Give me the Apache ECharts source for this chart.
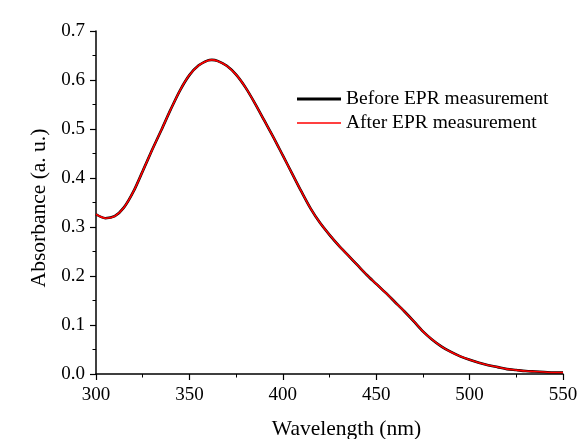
<!DOCTYPE html>
<html>
<head>
<meta charset="utf-8">
<script src="https://cdn.jsdelivr.net/npm/echarts@6/dist/echarts.min.js"></script>
<style>
html,body{margin:0;padding:0;background:#fff;}
#c{width:584px;height:439px;}
</style>
</head>
<body>
<div id="c"></div>
<script>
const wavelengths = [300,305,310,315,320,325,330,335,340,345,350,355,360,362,365,370,375,380,385,390,395,400,405,410,415,420,425,430,435,440,445,450,455,460,465,470,475,480,485,490,495,500,505,510,515,520,525,530,535,540,545,550];
const beforeEPR = [0.326,0.318,0.322,0.340,0.372,0.414,0.457,0.498,0.540,0.579,0.610,0.630,0.640,0.641,0.639,0.629,0.611,0.585,0.553,0.518,0.483,0.446,0.409,0.372,0.337,0.308,0.284,0.262,0.242,0.222,0.202,0.184,0.166,0.147,0.128,0.108,0.087,0.070,0.056,0.045,0.036,0.029,0.023,0.018,0.014,0.010,0.008,0.006,0.005,0.004,0.003,0.003];
const afterEPR = [0.326,0.318,0.322,0.340,0.372,0.414,0.457,0.498,0.540,0.579,0.610,0.630,0.640,0.641,0.639,0.629,0.611,0.585,0.553,0.518,0.483,0.446,0.409,0.372,0.337,0.308,0.284,0.262,0.242,0.222,0.202,0.184,0.166,0.147,0.128,0.108,0.087,0.070,0.056,0.045,0.036,0.029,0.023,0.018,0.014,0.010,0.008,0.006,0.005,0.004,0.003,0.003];
const seriesNames = ['Before EPR measurement','After EPR measurement'];
const xLabelName = 'Wavelength (nm)';
const yLabelName = 'Absorbance (a. u.)';

const font = '"Liberation Serif", "Times New Roman", serif';
const pair = (xs, ys) => xs.map((x, i) => [x, ys[i]]);

const chart = echarts.init(document.getElementById('c'));
chart.setOption({
  backgroundColor: '#fff',
  animation: false,
  grid: {left: 96, right: 21, top: 31, bottom: 65, containLabel: false, outerBoundsMode: 'none'},
  legend: {
    orient: 'vertical',
    left: 292,
    top: 84,
    itemWidth: 44,
    itemHeight: 14,
    itemGap: 4,
    textStyle: {fontFamily: font, fontSize: 19.5, color: '#000'},
    data: [
      {name: seriesNames[0], icon: 'path://M0,6 L44,6 L44,9 L0,9 Z', itemStyle: {color: '#000'}},
      {name: seriesNames[1], icon: 'path://M0,7 L44,7 L44,8.6 L0,8.6 Z', itemStyle: {color: '#ff0000'}}
    ]
  },
  xAxis: {
    type: 'value', min: 300, max: 550, interval: 50,
    name: xLabelName, nameLocation: 'middle', nameGap: 44,
    nameTextStyle: {fontFamily: font, fontSize: 21.5, color: '#000', padding: [0, 0, 0, 34]},
    axisLine: {show: true, onZero: false, lineStyle: {color: '#000', width: 1.5}},
    axisTick: {show: true, inside: false, length: 6, lineStyle: {color: '#000', width: 1.2}},
    minorTick: {show: true, splitNumber: 2, length: 3.5, lineStyle: {color: '#000', width: 1}},
    axisLabel: {fontFamily: font, fontSize: 19, color: '#000', margin: 12},
    splitLine: {show: false}
  },
  yAxis: {
    type: 'value', min: 0, max: 0.7, interval: 0.1,
    name: yLabelName, nameLocation: 'middle', nameGap: 44, nameRotate: 90,
    nameTextStyle: {fontFamily: font, fontSize: 21.5, color: '#000', padding: [0, 11, 0, 0]},
    axisLine: {show: true, onZero: false, lineStyle: {color: '#000', width: 1.5}},
    axisTick: {show: true, inside: false, length: 6, lineStyle: {color: '#000', width: 1.2}},
    minorTick: {show: true, splitNumber: 2, length: 3.5, lineStyle: {color: '#000', width: 1}},
    axisLabel: {fontFamily: font, fontSize: 19, color: '#000', margin: 11, formatter: v => v.toFixed(1)},
    splitLine: {show: false}
  },
  series: [
    {name: seriesNames[0], type: 'line', data: pair(wavelengths, beforeEPR), smooth: 0.3,
     showSymbol: false, symbol: 'none', lineStyle: {color: '#000', width: 2.6}, itemStyle: {color: '#000'}, z: 2},
    {name: seriesNames[1], type: 'line', data: pair(wavelengths, afterEPR), smooth: 0.3,
     showSymbol: false, symbol: 'none', lineStyle: {color: '#ff0000', width: 1.6}, itemStyle: {color: '#ff0000'}, z: 3}
  ]
});
</script>
</body>
</html>
